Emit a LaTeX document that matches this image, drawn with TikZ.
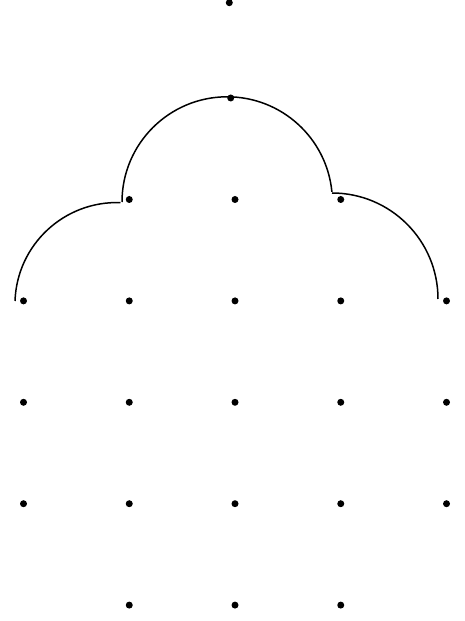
\documentclass[tikz,border=0pt]{standalone}
\usetikzlibrary{positioning}

\begin{document}
\begin{tikzpicture}[
			x=1pt,y=1pt,
			dot/.style={
				circle,
				fill=black,
				inner sep=0pt,
				minimum size=7pt
			},
			bump/.style={line width=1.5pt}
			]
			
			\useasboundingbox (0,0) rectangle (465,621);
			
			\node[dot] (peak) at (229.3,618.3) {};
			\node[dot] (crest) at (230.7,523) {};
			
			\foreach \r in {0,4}
				\foreach \c in {1,2,3}
					\node[dot] (d\r\c) at ({23.5+105.75*\c},{421.5-101.4*\r}) {};
			\foreach \r in {1,2,3}
				\foreach \c in {0,...,4}
					\node[dot] (d\r\c) at ({23.5+105.75*\c},{421.5-101.4*\r}) {};
			
			\coordinate (lft) at (15,320);
			\coordinate (mid) at (122,419);
			\coordinate (rgt) at (332,428);
			
			\draw[bump] (lft) arc[start angle=178,end angle=88,radius=102pt];
			\draw[bump] (mid) arc[start angle=180,end angle=5.5,radius=105.2pt];
			\draw[bump] (rgt) arc[start angle=90,end angle=0,radius=106pt];
			
		\end{tikzpicture}
\end{document}
